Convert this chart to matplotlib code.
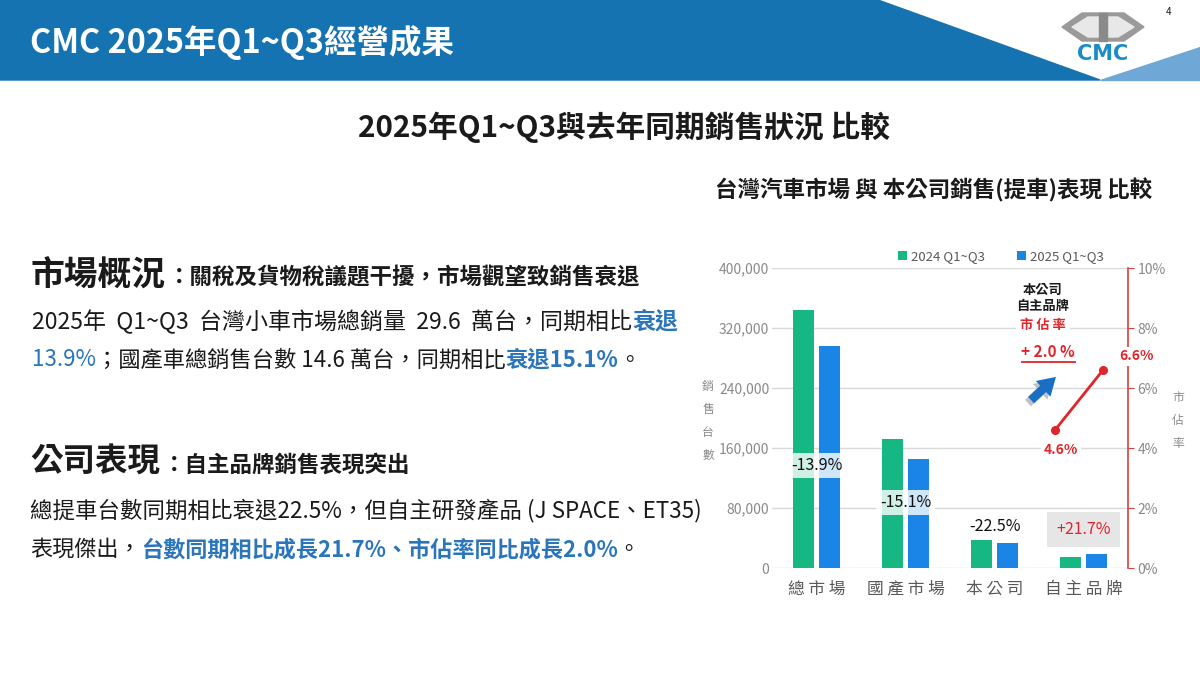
import numpy as np
import matplotlib.pyplot as plt
from matplotlib.patches import Polygon, Rectangle
from matplotlib.ticker import FuncFormatter

plt.rcParams['font.family'] = ['Noto Sans CJK TC', 'DejaVu Sans']

W, H = 1200, 675

# ------------------------------------------------------------------
# data
# ------------------------------------------------------------------
categories = ['總 市 場', '國 產 市 場', '本 公 司', '自 主 品 牌']
series_names = ['2024 Q1~Q3', '2025 Q1~Q3']
sales_2024 = [344000, 172000, 37500, 15000]
sales_2025 = [296000, 146000, 33500, 18300]
change_labels = ['-13.9%', '-15.1%', '-22.5%', '+21.7%']
share_values = [4.6, 6.6]
share_labels = ['4.6%', '6.6%']
left_ticks = [0, 80000, 160000, 240000, 320000, 400000]
right_ticks = [0, 2, 4, 6, 8, 10]

GREEN = '#17B784'
BLUE = '#1A85E6'
RED = '#E0252B'
GRAY = '#8A8A8A'
TXTBLUE = '#2A75BB'
DARK = '#1A1A1A'


def fx(px):
    return px / W


def fy(py):
    return 1 - py / H


fig = plt.figure(figsize=(12, 6.75), dpi=100)
fig.patch.set_facecolor('white')

# ------------------------------------------------------------------
# header band
# ------------------------------------------------------------------
band = [(0, 0), (878, 0), (1100, 80), (0, 80)]
fig.patches.append(Polygon([(fx(a), fy(b)) for a, b in band], closed=True,
                           transform=fig.transFigure, color='#1673B1', zorder=0))
tri = [(1100, 80), (1200, 80), (1200, 47)]
fig.patches.append(Polygon([(fx(a), fy(b)) for a, b in tri], closed=True,
                           transform=fig.transFigure, color='#6FA8D6', zorder=0))

# logo
outer = [(1062, 27), (1082, 13), (1124, 13), (1144, 27), (1124, 41), (1082, 41)]
inner = [(1072, 27), (1088, 17), (1118, 17), (1134, 27), (1118, 37), (1088, 37)]
fig.patches.append(Polygon([(fx(a), fy(b)) for a, b in outer], closed=True,
                           transform=fig.transFigure, color='#9A9A9A', zorder=1))
fig.patches.append(Polygon([(fx(a), fy(b)) for a, b in inner], closed=True,
                           transform=fig.transFigure, color='#E8E8E8', zorder=1))
fig.patches.append(Rectangle((fx(1099), fy(41)), 8 / W, 28 / H,
                             transform=fig.transFigure, color='#8A8A8A', zorder=1))
fig.text(fx(1103), fy(54), 'CMC', color='#1B8CC8', fontsize=15, fontweight='bold',
         family='DejaVu Sans', ha='center', va='center')
fig.text(fx(1168), fy(12), '4', fontsize=7, ha='center', va='center', color=DARK)

fig.canvas.draw()
renderer = fig.canvas.get_renderer()


def runs(x0, y, parts, x1, base=10):
    """place coloured text pieces one after another, sized to span x0..x1"""
    placed = []
    x = x0
    for s, color, bold in parts:
        t = fig.text(fx(x), fy(y), s, color=color, fontsize=base,
                     fontweight='bold' if bold else 'normal', ha='left', va='center')
        x += t.get_window_extent(renderer=renderer).width
        placed.append(t)
    size = base * (x1 - x0) / (x - x0)
    for t in placed:
        t.remove()
    x = x0
    for s, color, bold in parts:
        t = fig.text(fx(x), fy(y), s, color=color, fontsize=size,
                     fontweight='bold' if bold else 'normal', ha='left', va='center')
        x += t.get_window_extent(renderer=renderer).width
    return x


runs(30, 42, [('CMC 2025年Q1~Q3經營成果', 'white', True)], 455)
runs(358, 127, [('2025年Q1~Q3與去年同期銷售狀況 比較', DARK, True)], 890)
runs(715, 190, [('台灣汽車市場 與 本公司銷售(提車)表現 比較', DARK, True)], 1152)

# left hand text
runs(30, 275, [('市場概況', DARK, True)], 165)
runs(168, 278, [('：關稅及貨物稅議題干擾，市場觀望致銷售衰退', DARK, True)], 640)
runs(32, 322, [('2025年  Q1~Q3  台灣小車市場總銷量  29.6  萬台，同期相比', DARK, False),
               ('衰退', TXTBLUE, True)], 678)
runs(32, 360, [('13.9%', TXTBLUE, False), ('；國產車總銷售台數 14.6 萬台，同期相比', DARK, False),
               ('衰退15.1%', TXTBLUE, True), ('。', DARK, False)], 640)
runs(30, 462, [('公司表現', DARK, True)], 160)
runs(163, 465, [('：自主品牌銷售表現突出', DARK, True)], 410)
runs(30, 510, [('總提車台數同期相比衰退22.5%，但自主研發產品 (J SPACE、ET35)', DARK, False)], 700)
runs(30, 550, [('表現傑出，', DARK, False), ('台數同期相比成長21.7%、市佔率同比成長2.0%', TXTBLUE, True),
               ('。', DARK, False)], 640)

# ------------------------------------------------------------------
# chart
# ------------------------------------------------------------------
ax = fig.add_axes([fx(772), fy(568), (1128 - 772) / W, (568 - 268) / H])
x = np.arange(len(categories))
b1 = ax.bar(x - 0.146, sales_2024, width=0.225, color=GREEN, zorder=2, label=series_names[0])
b2 = ax.bar(x + 0.146, sales_2025, width=0.225, color=BLUE, zorder=2, label=series_names[1])
ax.set_xlim(-0.5, 3.5)
ax.set_ylim(0, 400000)
ax.set_yticks(left_ticks)
ax.yaxis.set_major_formatter(FuncFormatter(lambda v, p: f'{v:,.0f}'))
ax.grid(axis='y', color='#D9D9D9', lw=1)
ax.set_axisbelow(True)
for s in ax.spines.values():
    s.set_visible(False)
ax.tick_params(axis='y', length=0, labelcolor=GRAY, labelsize=10, pad=2)
ax.set_xticks(x)
ax.set_xticklabels(categories)
ax.tick_params(axis='x', length=0, labelcolor='#595959', labelsize=12, pad=9)

label_y = [137000, 87000, 55000, 51000]
for i, lab in enumerate(change_labels):
    if i < 3:
        ax.text(x[i], label_y[i], lab, ha='center', va='center', fontsize=11.5, color='#111111', zorder=4,
                bbox=dict(facecolor='white', alpha=0.8, edgecolor='none', pad=3))
    else:
        ax.text(x[i], label_y[i], lab, ha='center', va='center', fontsize=11.5, color=RED, zorder=4,
                bbox=dict(facecolor='#E6E6E6', edgecolor='none', boxstyle='square,pad=0.55'))

ax.legend(handles=[b1, b2], loc='center', bbox_to_anchor=(0.643, 1.037), ncol=2, frameon=False,
          fontsize=9.5, labelcolor='#595959', handlelength=0.7, handleheight=0.7,
          handletextpad=0.3, columnspacing=2.4, borderaxespad=0)

ax2 = ax.twinx()
ax2.set_ylim(0, 10)
ax2.set_yticks(right_ticks)
ax2.yaxis.set_major_formatter(FuncFormatter(lambda v, p: f'{v:.0f}%'))
for s in ['top', 'left', 'bottom']:
    ax2.spines[s].set_visible(False)
ax2.spines['right'].set_color('#D9403F')
ax2.spines['right'].set_linewidth(1.2)
ax2.tick_params(axis='y', color='#D9403F', length=4, labelcolor=GRAY, labelsize=10, pad=3)

share_x = [2.68, 3.22]
ax2.plot(share_x, share_values, color=RED, lw=2, marker='o', ms=5.5, zorder=3)
ax2.text(share_x[0] + 0.07, 3.95, share_labels[0], ha='center', va='center', color=RED,
         fontsize=10, fontweight='bold', bbox=dict(facecolor='white', edgecolor='none', pad=2))
ax2.text(3.6, 7.05, share_labels[1], ha='center', va='center', color=RED, fontsize=10,
         fontweight='bold', clip_on=False, zorder=5,
         bbox=dict(facecolor='white', edgecolor='none', pad=2))

# market share call-out
fig.text(fx(1043), fy(290), '本公司', ha='center', va='center', fontsize=9.5, fontweight='bold', color=DARK)
fig.text(fx(1043), fy(306), '自主品牌', ha='center', va='center', fontsize=9.5, fontweight='bold', color=DARK)
fig.text(fx(1043), fy(325), '市 佔 率', ha='center', va='center', fontsize=9.5, fontweight='bold', color=RED,
         bbox=dict(facecolor='white', edgecolor='none', pad=3), zorder=5)
fig.text(fx(1048), fy(352), '+ 2.0 %', ha='center', va='center', fontsize=11, fontweight='bold', color=RED)
fig.lines.append(plt.Line2D([fx(1022), fx(1075)], [fy(362), fy(362)], transform=fig.transFigure,
                            color=RED, lw=1.3))

arrow = 'simple,head_width=1.1,head_length=0.9,tail_width=0.45'
ax2.annotate('', xy=(1055, H - 378), xytext=(1026, H - 405), xycoords='figure pixels',
             textcoords='figure pixels', zorder=4,
             arrowprops=dict(arrowstyle=arrow, color='#BFC3C8', mutation_scale=14, lw=0))
ax2.annotate('', xy=(1058, H - 375), xytext=(1029, H - 402), xycoords='figure pixels',
             textcoords='figure pixels', zorder=5,
             arrowprops=dict(arrowstyle=arrow, color='#1A6FC2', mutation_scale=14, lw=0))

# axis titles written top to bottom
fig.text(fx(708), fy(421), '銷\n售\n台\n數', ha='center', va='center', fontsize=8.5, color=GRAY, linespacing=2.0)
fig.text(fx(1178), fy(420), '市\n佔\n率', ha='center', va='center', fontsize=8.5, color=GRAY, linespacing=2.0)

fig.savefig('out.png', dpi=100)
